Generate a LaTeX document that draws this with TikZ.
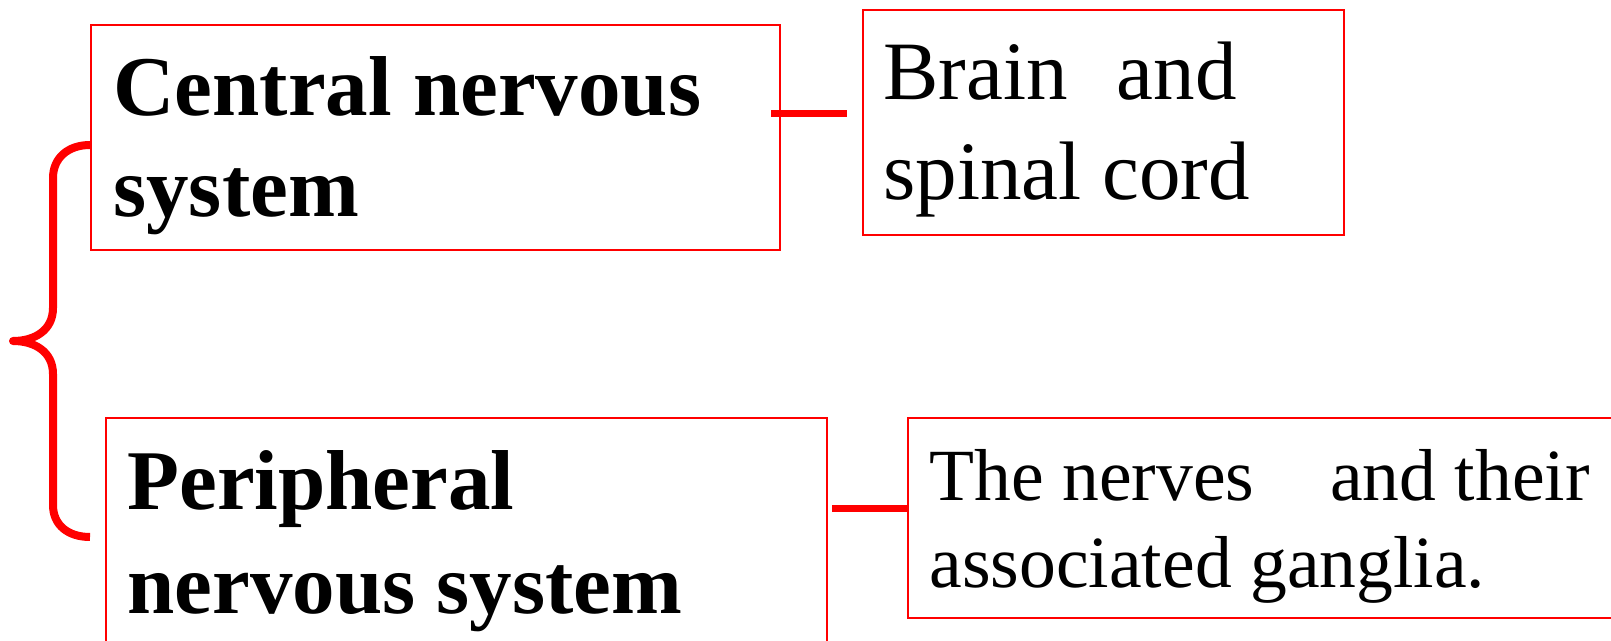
\documentclass[tikz,border=0pt]{standalone}
\usepackage{fontspec}
\setmainfont{Liberation Serif}
\tikzset{
  box/.style={draw=red, line width=1pt, rectangle, inner sep=0pt, anchor=north west},
  txt/.style={anchor=base west, inner sep=0pt, text=black},
  boldtxt/.style={txt, font=\fontsize{42.5}{50}\selectfont\bfseries},
  rtxt/.style={txt, font=\fontsize{41.5}{50}\selectfont},
  stxt/.style={txt, font=\fontsize{36.8}{44}\selectfont},
  link/.style={draw=red, line width=3.5pt},
  bracestyle/.style={draw=red, line width=4pt, line cap=butt, line join=round}
}
\begin{document}
\begin{tikzpicture}[x=0.5pt, y=-0.5pt]
\useasboundingbox (0,0) rectangle (1611,641);
\clip (0,0) rectangle (1611,641);
% boxes
\node[box, minimum width=344.5pt, minimum height=112.5pt] (cns) at (90,24) {};
\node[box, minimum width=240.5pt, minimum height=112.5pt] (brain) at (862,9) {};
\node[box, minimum width=360.5pt, minimum height=130pt] (pns) at (105,417) {};
\node[box, minimum width=366.5pt, minimum height=100pt] (nerves) at (907,417) {};
% texts
\node[boldtxt] (t1) at (113,116) {Central nervous};
\node[boldtxt] (t2) at (113,217) {system};
\node[rtxt] (t3) at (883,100) {Brain\hspace{24.5pt}and};
\node[rtxt] (t4) at (883,200) {spinal cord};
\node[boldtxt] (t5) at (127,509) {Peripheral};
\node[boldtxt] (t6) at (127,613) {nervous system};
\node[stxt] (t7) at (929,500) {The nerves\hspace{38pt}and their};
\node[stxt] (t8) at (929,587) {associated ganglia.};
% connectors
\coordinate (c1a) at (771,114);
\coordinate (c1b) at (847,114);
\coordinate (c2a) at (832,508);
\coordinate (c2b) at (907,508);
\draw[link] (c1a) -- (c1b);
\draw[link] (c2a) -- (c2b);
% brace
\coordinate (btop) at (90,145);
\coordinate (btip) at (13,341);
\coordinate (bbot) at (90,537);
\draw[bracestyle] (btop) .. controls (68,145) and (53,158) .. (53,178) -- (53,308)
  .. controls (53,330) and (35,341) .. (btip)
  .. controls (35,341) and (53,352) .. (53,374) -- (53,505)
  .. controls (53,525) and (68,537) .. (bbot);
\end{tikzpicture}
\end{document}
